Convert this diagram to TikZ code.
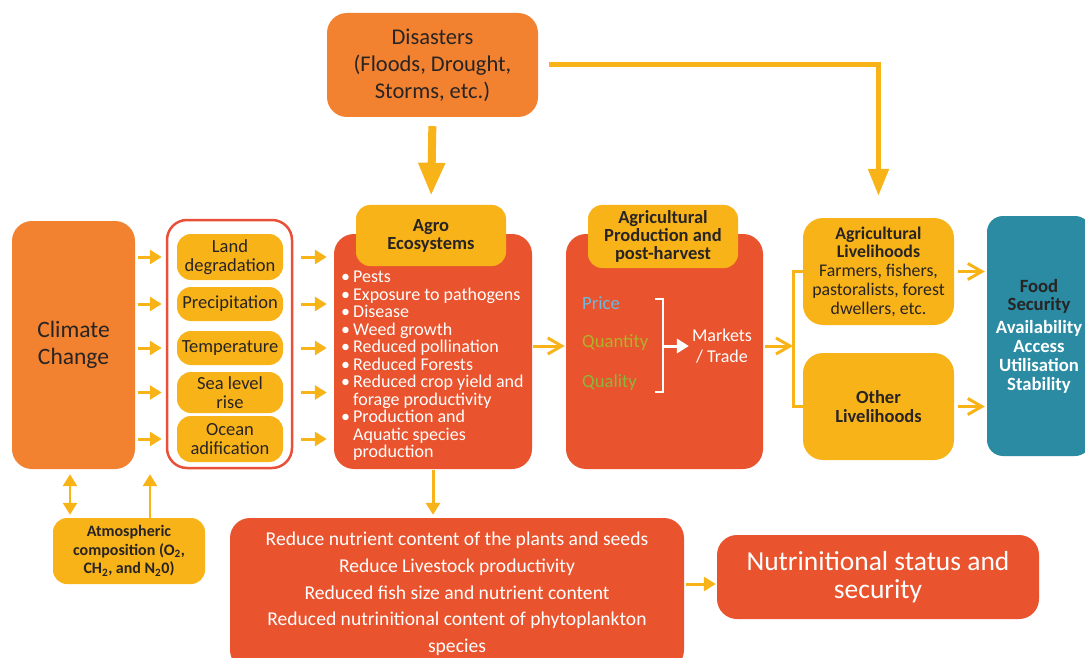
\documentclass[tikz,border=0pt]{standalone}
\usepackage{fontspec}
\setmainfont{Carlito}
\usepackage{xcolor}
\usetikzlibrary{arrows.meta,positioning}
\definecolor{cgorange}{RGB}{242,130,48}
\definecolor{cgred}{RGB}{233,83,45}
\definecolor{cgyellow}{RGB}{248,179,25}
\definecolor{cgteal}{RGB}{42,139,163}
\definecolor{cgtext}{RGB}{40,36,36}
\definecolor{cgblue}{RGB}{110,185,220}
\definecolor{cgolive}{RGB}{176,178,42}
\definecolor{cggreen}{RGB}{140,182,60}
\definecolor{cgborder}{RGB}{232,80,58}
\newcommand{\fsz}[2]{\fontsize{#1}{#2}\selectfont}
\newcommand{\bul}{\makebox[12pt][l]{\textbullet}}

\begin{document}
\begin{tikzpicture}[x=1pt,y=-1pt,
    >={Triangle[length=12pt,width=14pt]},
    box/.style={rectangle,rounded corners=20pt,inner sep=0pt,align=center,text=cgtext},
    orbox/.style={box,fill=cgorange},
    redbox/.style={box,fill=cgred,text=white},
    factor/.style={box,rounded corners=14pt,fill=cgyellow,minimum width=106pt,font=\fsz{18.5}{19}},
    header/.style={box,rounded corners=14pt,fill=cgyellow,minimum width=150pt,font=\bfseries\fsz{18.5}{18}},
    livebox/.style={box,fill=cgyellow,minimum width=151pt,minimum height=107pt},
    arr/.style={->,line width=3pt,cgyellow},
    openarr/.style={-{Straight Barb[length=14pt,width=16pt]},line width=3pt,cgyellow},
    link/.style={line width=3pt,cgyellow}
]
\useasboundingbox (0,0) rectangle (1085,658);

% Sources
\node[orbox,minimum width=211pt,minimum height=104pt,font=\fsz{22.5}{27}] (dis) at (432.5,65)
  {Disasters\\(Floods, Drought,\\Storms, etc.)};
\node[orbox,minimum width=123pt,minimum height=248pt,font=\fsz{23.5}{27}] (cc) at (73.5,345) {Climate\\Change};
\node[box,fill=cgyellow,minimum width=152pt,minimum height=66pt,rounded corners=14pt,font=\bfseries\fsz{16}{18.5}] (atm) at (129,551)
  {Atmospheric\\composition (O\textsubscript{2},\\CH\textsubscript{2}, and N\textsubscript{2}0)};

% Climate factors
\node[box,draw=cgborder,line width=2.5pt,fill=white,minimum width=125pt,minimum height=248pt] (grp) at (229.5,344) {};
\node[factor,minimum height=46pt] (land) at (230,257) {Land\\degradation};
\node[factor,minimum height=34pt] (prec) at (230,304) {Precipitation};
\node[factor,minimum height=34pt] (temp) at (230,348) {Temperature};
\node[factor,minimum height=41pt] (sea) at (230,392.5) {Sea level\\rise};
\node[factor,minimum height=46pt] (ocean) at (230,439) {Ocean\\adification};

% Agro ecosystems
\node[redbox,minimum width=198pt,minimum height=235pt] (agro) at (433,351.5) {};
\node[header,minimum height=61pt] (agroh) at (431,235.5) {Agro\\Ecosystems};
\node[anchor=north west,inner sep=0pt,text=white,align=left,font=\fsz{18}{17.5}] (list) at (341,271)
  {\bul Pests\\ \bul Exposure to pathogens\\ \bul Disease\\ \bul Weed growth\\
   \bul Reduced pollination\\ \bul Reduced Forests\\ \bul Reduced crop yield and\\
   \hspace*{12pt}forage productivity\\ \bul Production and\\
   \hspace*{12pt}Aquatic species\\ \hspace*{12pt}production};

% Agricultural production
\node[redbox,minimum width=197pt,minimum height=235pt] (prod) at (664.5,351.5) {};
\node[header,minimum height=63pt] (prodh) at (663,236.5) {Agricultural\\Production and\\post-harvest};
\node[anchor=west,inner sep=0pt,font=\fsz{18.7}{20},text=cgblue] (price) at (582,303) {Price};
\node[anchor=west,inner sep=0pt,font=\fsz{18.7}{20},text=cgolive] (qty) at (582,343) {Quantity};
\node[anchor=west,inner sep=0pt,font=\fsz{18.7}{20},text=cggreen] (qual) at (582,383) {Quality};
\coordinate (brk) at (663,346);
\node[inner sep=0pt,align=center,text=white,font=\fsz{18}{21}] (mkt) at (722,346) {Markets\\/ Trade};
\draw[white,line width=2.5pt] ([xshift=-8pt]brk |- 0,299) -- (brk |- 0,299) -- (brk |- 0,392) -- ++(-8,0);
\draw[arr,white] (brk) -- ([xshift=-3pt]mkt.west);

% Livelihoods and food security
\node[livebox,font=\fsz{17.8}{18.8}] (agl) at (878.5,271.5)
  {\textbf{Agricultural}\\\textbf{Livelihoods}\\Farmers, fishers,\\pastoralists, forest\\dwellers, etc.};
\node[livebox,font=\bfseries\fsz{18.5}{19}] (oth) at (878.5,406.5) {Other\\Livelihoods};
\node[box,fill=cgteal,text=white,minimum width=104pt,minimum height=240pt,rounded corners=16pt,font=\bfseries\fsz{18.7}{18.8}] (fs) at (1039,336)
  {\textcolor{cgtext}{Food}\\\textcolor{cgtext}{Security}\\[4pt]Availability\\Access\\Utilisation\\Stability};

% Nutrition
\node[redbox,minimum width=454pt,minimum height=152pt,font=\fsz{19.6}{26.7}] (low) at (457,594)
  {Reduce nutrient content of the plants and seeds\\Reduce Livestock productivity\\
   Reduced fish size and nutrient content\\Reduced nutrinitional content of phytoplankton\\species};
\node[redbox,minimum width=322pt,minimum height=84pt,font=\fsz{27.5}{28}] (nut) at (878,577)
  {Nutrinitional status and\\security};

% Arrows
\draw[-{Triangle[length=33pt,width=25pt]},line width=8pt,cgyellow,shorten <=9pt,shorten >=9pt] (dis.south) -- (agroh.north);
\draw[-{Triangle[length=27pt,width=20pt]},line width=5pt,cgyellow,shorten <=11pt,shorten >=22pt] (dis.east) -| (agl.north);
\foreach \f in {land,prec,temp,sea,ocean}{
  \draw[arr,shorten <=3pt,shorten >=4pt] (cc.east |- \f) -- (grp.west |- \f);
  \draw[arr,shorten <=8pt,shorten >=7pt] (grp.east |- \f) -- (agro.west |- \f);
}
\draw[openarr,shorten <=1pt,shorten >=1pt] (agro.east |- brk) -- (prod.west |- brk);
\coordinate (split) at (793,346);
\draw[openarr,shorten <=2pt] (prod.east |- split) -- (split);
\draw[link] (agl.west) -| (split) |- (oth.west);
\draw[openarr,shorten <=4pt,shorten >=2pt] (agl.east) -- (agl.east -| fs.west);
\draw[openarr,shorten <=4pt,shorten >=2pt] (oth.east) -- (oth.east -| fs.west);
\draw[arr,line width=2.5pt,<->,shorten <=3pt,shorten >=5pt] ([xshift=-59pt]atm.north) -- ([xshift=-59pt]atm.north |- cc.south);
\draw[arr,line width=2.5pt,shorten >=5pt] ([xshift=21pt]atm.north) -- ([xshift=21pt]atm.north |- cc.south);
\draw[arr,shorten <=1pt,shorten >=3pt] (agro.south) -- (agro.south |- low.north);
\draw[arr,shorten <=2pt,shorten >=1pt] ([yshift=10pt]low.east) -- ([yshift=10pt]low.east -| nut.west);

\end{tikzpicture}
\end{document}
